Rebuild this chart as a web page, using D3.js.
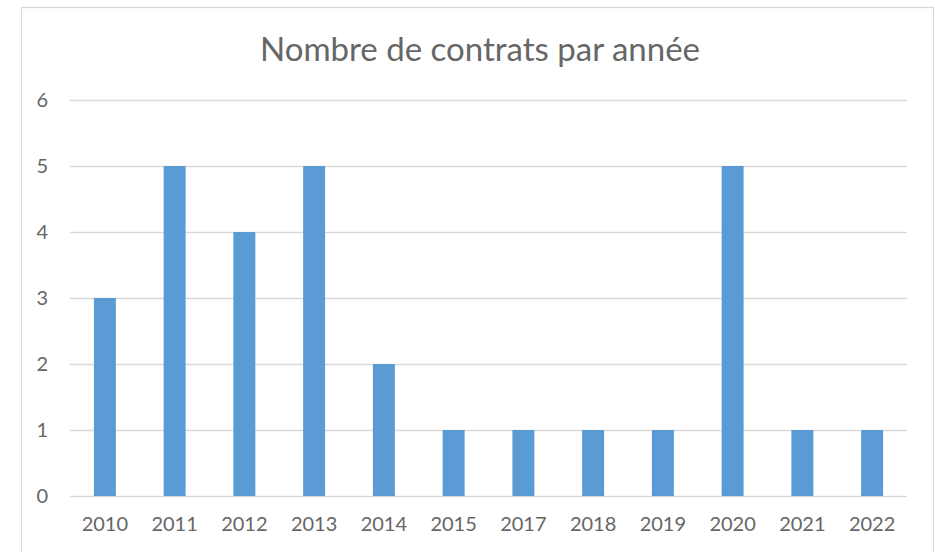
<!DOCTYPE html>
<html>
<head>
<meta charset="utf-8">
<script src="https://cdn.jsdelivr.net/npm/d3@7"></script>
<style>
  html, body { margin: 0; padding: 0; background: #fff; }
  svg { display: block; font-family: Lato, "Open Sans", sans-serif; }
</style>
</head>
<body>
<svg id="chart" width="935" height="552"></svg>
<script>
const years = ["2010", "2011", "2012", "2013", "2014", "2015", "2017", "2018", "2019", "2020", "2021", "2022"];
const contracts = [3, 5, 4, 5, 2, 1, 1, 1, 1, 5, 1, 1];
const yTicks = [0, 1, 2, 3, 4, 5, 6];
const title = "Nombre de contrats par année";

const svg = d3.select("#chart");
const margin = { left: 70, right: 28, top: 100, bottom: 56 };
const W = 935, H = 552;
const textColor = "#666666";

// chart frame
svg.append("rect")
  .attr("x", 21.5).attr("y", 7.5)
  .attr("width", 912).attr("height", 560)
  .attr("fill", "#fff").attr("stroke", "#d9d9d9").attr("stroke-width", 1.3);

const x = d3.scaleBand()
  .domain(years)
  .range([margin.left, W - margin.right])
  .paddingInner(0.685).paddingOuter(0.3425);

const y = d3.scaleLinear()
  .domain([0, 6])
  .range([H - margin.bottom, margin.top]);

// horizontal gridlines
svg.append("g")
  .selectAll("line")
  .data(yTicks)
  .join("line")
  .attr("x1", margin.left).attr("x2", W - margin.right)
  .attr("y1", d => Math.round(y(d)) + 0.5).attr("y2", d => Math.round(y(d)) + 0.5)
  .attr("stroke", "#d9d9d9").attr("stroke-width", 1.3);

// y axis labels
const yAxis = svg.append("g")
  .attr("transform", `translate(${margin.left - 22},0)`)
  .call(d3.axisLeft(y).tickValues(yTicks).tickFormat(d3.format("d")).tickSize(0).tickPadding(0));
yAxis.select(".domain").remove();
yAxis.selectAll("text")
  .attr("fill", textColor).attr("font-size", 20)
  .attr("font-family", "Lato, 'Open Sans', sans-serif");

// bars
svg.append("g")
  .selectAll("rect")
  .data(years.map((yr, i) => ({ yr, v: contracts[i] })))
  .join("rect")
  .attr("x", d => x(d.yr))
  .attr("width", x.bandwidth())
  .attr("y", d => y(d.v))
  .attr("height", d => y(0) - y(d.v))
  .attr("fill", "#5b9bd5");

// x axis labels
const xAxis = svg.append("g")
  .attr("transform", `translate(0,${H - margin.bottom})`)
  .call(d3.axisBottom(x).tickSize(0).tickPadding(21));
xAxis.select(".domain").remove();
xAxis.selectAll("text")
  .attr("fill", textColor).attr("font-size", 20)
  .attr("font-family", "Lato, 'Open Sans', sans-serif");

// title
svg.append("text")
  .attr("x", 480).attr("y", 61)
  .attr("text-anchor", "middle")
  .attr("fill", textColor).attr("font-size", 33)
  .text(title);
</script>
</body>
</html>
